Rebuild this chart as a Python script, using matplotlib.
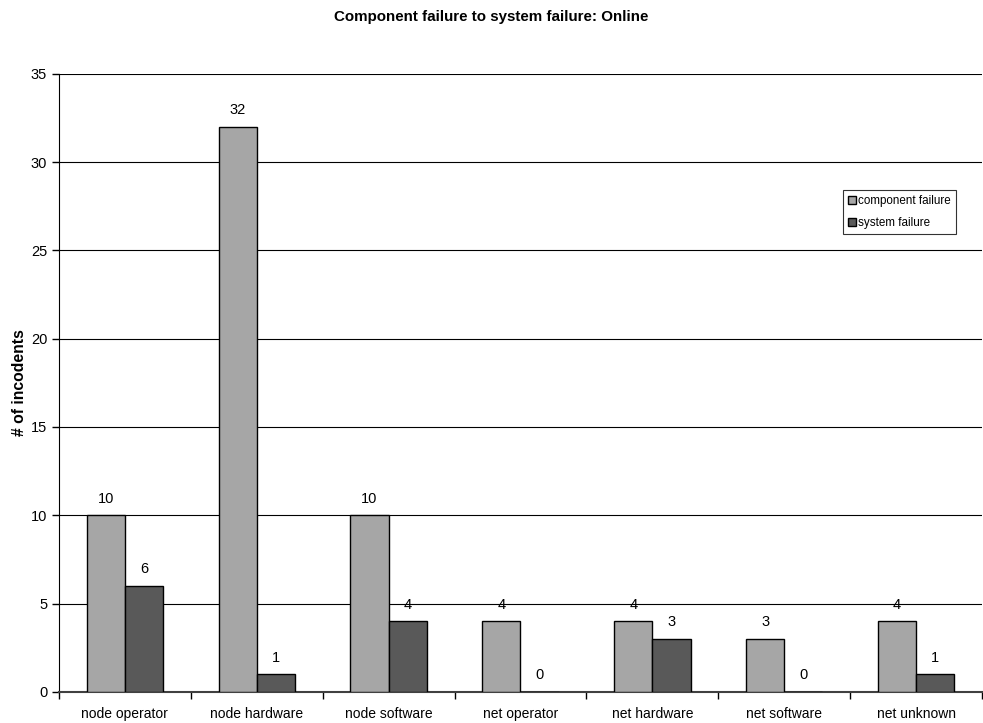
import matplotlib.pyplot as plt
import numpy as np

plt.rcParams['font.family'] = ['Liberation Sans', 'DejaVu Sans']

categories = ['node operator', 'node hardware', 'node software', 'net operator',
              'net hardware', 'net software', 'net unknown']
component_failure = [10, 32, 10, 4, 4, 3, 4]
system_failure = [6, 1, 4, 0, 3, 0, 1]

fig = plt.figure(figsize=(9.83, 7.23), dpi=100)
ax = fig.add_axes([0.060, 0.043, 0.939, 0.855])

x = np.arange(len(categories))
w = 0.29
b1 = ax.bar(x - w / 2, component_failure, w, color='#a6a6a6', edgecolor='black',
            linewidth=1, label='component failure', zorder=3)
b2 = ax.bar(x + w / 2, system_failure, w, color='#595959', edgecolor='black',
            linewidth=1, label='system failure', zorder=3)
for bars in (b1, b2):
    for r in bars:
        ax.text(r.get_x() + r.get_width() / 2, r.get_height() + 0.55, str(int(r.get_height())),
                ha='center', va='bottom', fontsize=10.5, zorder=4)

ax.set_xlim(-0.5, len(categories) - 0.5)
ax.set_ylim(0, 35)
ax.set_yticks(range(0, 36, 5))
ax.yaxis.grid(True, color='black', linewidth=0.8, zorder=0)
ax.tick_params(axis='y', labelsize=10.5, length=5, width=1)
ax.set_xticks(x)
ax.set_xticklabels(categories, fontsize=10)
ax.tick_params(axis='x', length=0, pad=11)
ax.set_xticks(np.arange(len(categories) + 1) - 0.5, minor=True)
ax.tick_params(axis='x', which='minor', length=5, width=1)
for s in ('top', 'right'):
    ax.spines[s].set_visible(False)
ax.spines['bottom'].set_color('#404040')
ax.spines['bottom'].set_linewidth(1.5)

ax.set_ylabel('# of incodents', fontsize=11.3, fontweight='bold', labelpad=3)
fig.suptitle('Component failure to system failure: Online', fontsize=10.9,
             fontweight='bold', y=0.986)

leg = ax.legend(loc='upper left', bbox_to_anchor=(0.849, 0.812), fontsize=8.4,
                frameon=True, fancybox=False, edgecolor='black', handlelength=0.7,
                handleheight=0.7, handletextpad=0.2, borderpad=0.45, labelspacing=0.85,
                borderaxespad=0)
leg.get_frame().set_linewidth(0.8)

fig.savefig('out.png', dpi=100)
